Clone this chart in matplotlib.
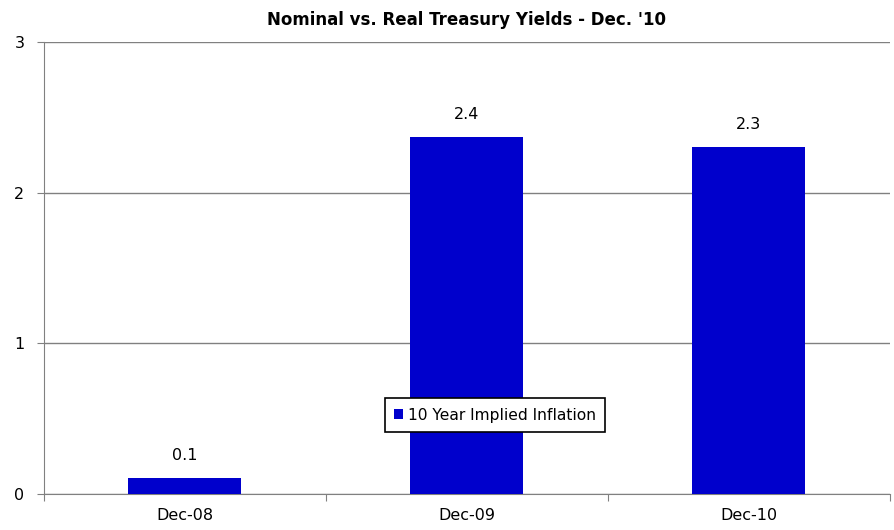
import matplotlib
matplotlib.use("Agg")
import matplotlib.pyplot as plt
import numpy as np

categories = ["Dec-08", "Dec-09", "Dec-10"]
values = [0.106, 2.37, 2.30]
labels = ["0.1", "2.4", "2.3"]
series_name = "10 Year Implied Inflation"

plt.rcParams['font.family'] = ['Liberation Sans Narrow', 'DejaVu Sans']

fig = plt.figure(figsize=(8.95, 5.3), dpi=100)
ax = fig.add_axes([0.049, 0.068, 0.945, 0.853])

x = np.arange(len(categories))
bars = ax.bar(x, values, width=0.4, color="#0000CC", label=series_name, zorder=3)

for xi, v, lab in zip(x, values, labels):
    ax.text(xi, v + 0.1, lab, ha="center", va="bottom", fontsize=11.5)

ax.set_xlim(-0.5, 2.5)
ax.set_ylim(0, 3)
ax.set_yticks([0, 1, 2, 3])
ax.yaxis.grid(True, color="#808080", linewidth=1)
ax.set_axisbelow(True)

# ticks between categories
ax.set_xticks([-0.5, 0.5, 1.5, 2.5])
ax.set_xticklabels([])
ax.set_xticks(x, minor=True)
ax.set_xticklabels(categories, minor=True, fontsize=11.5)
ax.tick_params(axis="x", which="minor", length=0, pad=10)
ax.tick_params(axis="x", which="major", length=5, color="#808080")
ax.tick_params(axis="y", length=5, color="#808080", labelsize=11.5, pad=9)

for s in ["top", "right"]:
    ax.spines[s].set_visible(False)
for s in ["left", "bottom"]:
    ax.spines[s].set_color("#808080")

ax.set_title("Nominal vs. Real Treasury Yields - Dec. '10", fontsize=12, fontweight="bold", pad=12)

leg = ax.legend(loc="lower left", bbox_to_anchor=(0.403, 0.137), borderaxespad=0,
                fontsize=11.2, frameon=True, fancybox=False, edgecolor="black",
                framealpha=1, handlelength=0.6, handleheight=0.6,
                handletextpad=0.3, borderpad=0.6)
leg.get_frame().set_linewidth(1.2)

fig.savefig("out.png", dpi=100)
